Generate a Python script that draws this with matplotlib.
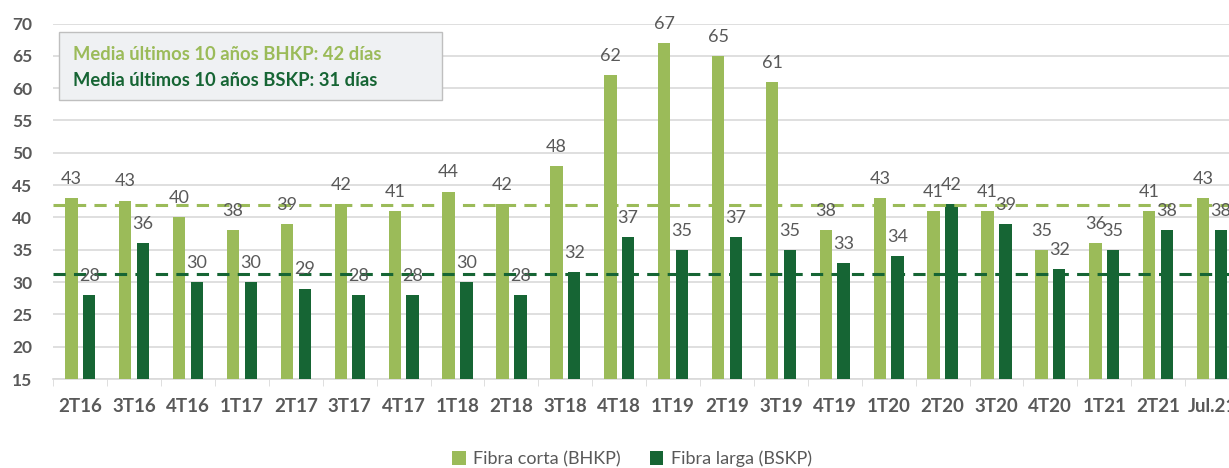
import numpy as np
import matplotlib.pyplot as plt

categories = ['2T16', '3T16', '4T16', '1T17', '2T17', '3T17', '4T17', '1T18', '2T18', '3T18', '4T18',
              '1T19', '2T19', '3T19', '4T19', '1T20', '2T20', '3T20', '4T20', '1T21', '2T21', 'Jul.21']
bhkp = [43, 42.6, 40, 38, 39, 42, 41, 44, 42, 48, 62, 67, 65, 61, 38, 43, 41, 41, 35, 36, 41, 43]
bskp = [28, 36, 30, 30, 29, 28, 28, 30, 28, 31.6, 37, 35, 37, 35, 33, 34, 42, 39, 32, 35, 38, 38]
media_bhkp = 41.9
media_bskp = 31.25

light = '#9BBB59'
dark = '#166534'
gray = '#595959'

plt.rcParams['font.family'] = ['Lato', 'DejaVu Sans']

W, H = 1229, 468
fig = plt.figure(figsize=(W / 100, H / 100), dpi=100)
ax = fig.add_axes([53.3 / W, 1 - 379 / H, (1239 - 53.3) / W, (379 - 23.5) / H])

x = np.arange(len(categories))
w = 0.23
off = 0.165
b1 = ax.bar(x - off, bhkp, w, color=light, label='Fibra corta (BHKP)', zorder=3)
b2 = ax.bar(x + off, bskp, w, color=dark, label='Fibra larga (BSKP)', zorder=3)

for bars, vals in ((b1, bhkp), (b2, bskp)):
    for r, v in zip(bars, vals):
        ax.annotate(f'{round(v):d}', (r.get_x() + r.get_width() / 2, v), xytext=(0, 8),
                    textcoords='offset points', ha='center', va='bottom',
                    fontsize=13, color=gray, zorder=5)

ax.axhline(media_bhkp, color=light, ls=(0, (4, 2.7)), lw=2.2, zorder=4)
ax.axhline(media_bskp, color=dark, ls=(0, (4, 2.7)), lw=2.2, zorder=4)

ax.set_ylim(15, 70)
ax.set_yticks(range(15, 71, 5))
ax.set_xlim(-0.5, len(categories) - 0.5)
ax.set_xticks(x)
ax.set_xticklabels(categories, fontsize=13.5, fontweight='bold', color=gray)
ax.set_xticks(np.arange(-0.5, len(categories), 1), minor=True)
ax.tick_params(axis='x', which='major', length=0, pad=14)
ax.tick_params(axis='x', which='minor', length=5, color='#D9D9D9')
ax.tick_params(axis='y', labelsize=12.5, labelcolor=gray, length=0, pad=15)
for lab in ax.get_yticklabels():
    lab.set_fontweight('bold')
ax.grid(axis='y', color='#D9D9D9', lw=1.2, zorder=0)
for s in ['top', 'right', 'left']:
    ax.spines[s].set_visible(False)
ax.spines['bottom'].set_color('#D9D9D9')
ax.spines['bottom'].set_linewidth(1.2)

# caja con medias
fig.patches.append(plt.Rectangle((59 / W, 1 - 100 / H), 383 / W, 68 / H,
                                 transform=fig.transFigure, facecolor='#EFF1F3',
                                 edgecolor='#BFBFBF', lw=1, zorder=10))
fig.text(73 / W, 1 - 55 / H, 'Media últimos 10 años BHKP: 42 días', color=light,
         fontsize=13.2, fontweight='bold', va='center', zorder=11)
fig.text(73 / W, 1 - 80 / H, 'Media últimos 10 años BSKP: 31 días', color=dark,
         fontsize=13.2, fontweight='bold', va='center', zorder=11)

fig.legend(handles=[b1, b2], loc='center', bbox_to_anchor=(632 / W, 1 - 459 / H), ncol=2,
           frameon=False, fontsize=13, labelcolor=gray, handlelength=0.75, handleheight=0.75,
           columnspacing=1.6, handletextpad=0.4)

fig.savefig('out.png', dpi=100)
